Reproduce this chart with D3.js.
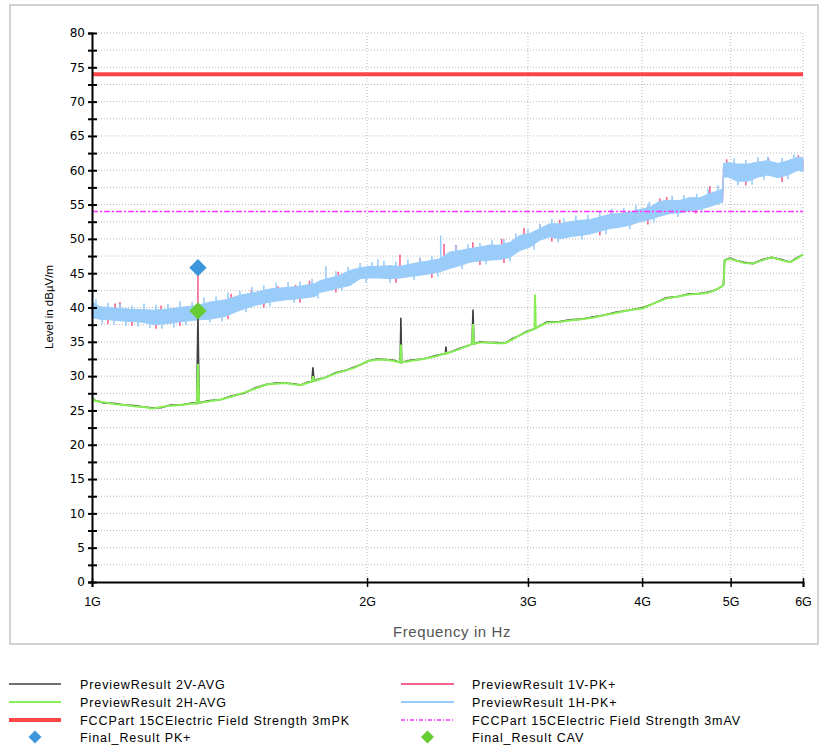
<!DOCTYPE html>
<html>
<head>
<meta charset="utf-8">
<script src="https://cdn.jsdelivr.net/npm/d3@7"></script>
<style>
  body { margin: 0; background: #fff; }
  svg text { font-family: "Liberation Sans", Arial, sans-serif; }
</style>
</head>
<body>
<svg id="chart" width="820" height="747"></svg>
<script>

// ============================================================
//  DATA (frequencies in GHz, levels in dBµV/m)
// ============================================================

// -- Preview results, average detector ---------------------
const avgFreq = [
  1.000, 1.006, 1.030, 1.061, 1.085, 1.112, 1.140, 1.163, 1.190, 1.219,
  1.250, 1.291, 1.302, 1.306, 1.310, 1.340, 1.384, 1.420, 1.467, 1.510,
  1.554, 1.590, 1.627, 1.660, 1.693, 1.720, 1.740, 1.745, 1.750, 1.763,
  1.800, 1.848, 1.890, 1.935, 1.970, 2.005, 2.050, 2.098, 2.140, 2.174,
  2.178, 2.182, 2.230, 2.304, 2.380, 2.436, 2.440, 2.444, 2.520, 2.586,
  2.606, 2.612, 2.618, 2.660, 2.706, 2.770, 2.832, 2.880, 2.934, 2.990,
  3.050, 3.054, 3.060, 3.148, 3.240, 3.332, 3.430, 3.531, 3.640, 3.741,
  3.870, 4.010, 4.120, 4.249, 4.380, 4.503, 4.610, 4.712, 4.800, 4.881,
  4.910, 4.925, 4.993, 5.080, 5.171, 5.290, 5.420, 5.543, 5.680, 5.806,
  5.900, 6.000
];
const avg2H = [
  27.0, 26.4, 26.2, 25.9, 25.8, 25.6, 25.5, 25.3, 25.5, 25.7,
  25.8, 26.0, 26.0, 31.8, 26.1, 26.3, 26.6, 27.0, 27.6, 28.2,
  28.8, 28.9, 29.0, 28.8, 28.7, 29.0, 29.2, 30.0, 29.3, 29.4,
  29.8, 30.4, 30.8, 31.2, 31.7, 32.2, 32.4, 32.4, 32.2, 32.0,
  34.6, 32.0, 32.2, 32.5, 32.9, 33.3, 33.4, 33.3, 33.9, 34.5,
  34.7, 37.6, 34.7, 34.9, 34.9, 34.8, 34.8, 35.3, 35.9, 36.4,
  36.9, 41.9, 37.0, 37.8, 37.9, 38.1, 38.3, 38.5, 38.9, 39.2,
  39.6, 39.9, 40.6, 41.3, 41.6, 41.9, 42.0, 42.1, 42.5, 43.0,
  43.3, 46.9, 47.1, 46.8, 46.5, 46.4, 46.9, 47.3, 46.9, 46.6,
  47.1, 47.7
];
const avg2V = [
  27.0, 26.5, 26.1, 26.0, 25.8, 25.7, 25.5, 25.4, 25.4, 25.8,
  25.8, 26.1, 26.0, 39.0, 26.1, 26.4, 26.6, 27.1, 27.5, 28.3,
  28.8, 29.0, 29.0, 28.9, 28.7, 29.1, 29.2, 31.3, 29.3, 29.5,
  29.8, 30.5, 30.8, 31.3, 31.7, 32.2, 32.5, 32.4, 32.3, 32.0,
  38.5, 32.0, 32.3, 32.5, 33.0, 33.3, 34.3, 33.3, 34.0, 34.5,
  34.7, 39.7, 34.7, 35.0, 34.9, 34.9, 34.8, 35.4, 35.9, 36.5,
  36.9, 37.2, 37.0, 37.9, 37.9, 38.2, 38.3, 38.6, 38.9, 39.3,
  39.6, 40.0, 40.6, 41.4, 41.6, 42.0, 42.0, 42.2, 42.5, 43.0,
  43.3, 46.9, 47.2, 46.8, 46.6, 46.4, 47.0, 47.3, 47.0, 46.6,
  47.2, 47.7
];

// -- Preview results, peak detector (envelope of the trace) ----
const pkFreq = [
  1.000, 1.020, 1.046, 1.087, 1.129, 1.172, 1.217, 1.264, 1.306, 1.346,
  1.398, 1.452, 1.508, 1.566, 1.626, 1.689, 1.754, 1.776, 1.822, 1.868,
  1.916, 1.965, 2.015, 2.066, 2.119, 2.173, 2.228, 2.285, 2.343, 2.403,
  2.465, 2.527, 2.592, 2.658, 2.726, 2.795, 2.867, 2.940, 3.015, 3.091,
  3.170, 3.251, 3.334, 3.419, 3.506, 3.596, 3.688, 3.782, 3.878, 3.977,
  4.078, 4.182, 4.289, 4.398, 4.511, 4.626, 4.744, 4.865, 4.900, 4.912,
  4.966, 5.092, 5.222, 5.356, 5.492, 5.632, 5.776, 5.923, 6.000
];
const pk1HTop = [
  40.8, 40.1, 40.0, 39.8, 39.7, 39.6, 39.8, 40.1, 40.3, 40.8,
  41.1, 41.8, 42.2, 42.7, 42.9, 43.1, 43.5, 43.9, 44.3, 44.7,
  45.4, 45.8, 46.0, 46.0, 46.1, 46.0, 46.3, 46.6, 46.8, 47.1,
  48.1, 48.3, 48.6, 48.8, 49.1, 49.1, 49.5, 50.5, 50.8, 51.5,
  52.2, 52.2, 52.5, 52.7, 52.8, 53.2, 53.6, 53.7, 53.9, 54.3,
  54.6, 55.5, 55.6, 55.6, 56.0, 56.0, 56.6, 57.1, 57.3, 61.0,
  61.1, 60.9, 60.9, 61.2, 61.4, 61.0, 61.4, 61.9, 61.8
];
const pk1HBot = [
  38.5, 38.3, 38.2, 38.0, 37.9, 37.5, 37.7, 38.0, 38.2, 38.3,
  38.7, 39.6, 40.3, 40.8, 41.1, 41.3, 41.6, 42.2, 42.5, 42.9,
  43.2, 44.2, 44.3, 44.3, 44.2, 44.3, 44.5, 44.7, 44.9, 45.2,
  45.7, 46.1, 46.6, 46.8, 46.9, 47.0, 47.3, 48.3, 48.8, 49.8,
  50.3, 50.0, 50.3, 50.5, 50.7, 51.1, 51.5, 51.7, 52.0, 52.5,
  52.8, 53.3, 53.7, 53.8, 54.1, 54.3, 54.7, 55.2, 55.3, 59.0,
  59.0, 58.4, 58.4, 59.0, 59.3, 58.9, 59.3, 60.0, 59.8
];
const pk1VTop = [
  40.5, 39.8, 39.7, 39.5, 39.4, 39.3, 39.5, 39.8, 40.0, 40.5,
  40.8, 41.5, 41.9, 42.4, 42.6, 42.8, 43.2, 43.6, 44.0, 44.4,
  45.1, 45.5, 45.7, 45.7, 45.8, 45.7, 46.0, 46.3, 46.5, 46.8,
  47.8, 48.0, 48.3, 48.5, 48.8, 48.8, 49.2, 50.2, 50.5, 51.2,
  51.9, 51.9, 52.2, 52.4, 52.5, 52.9, 53.3, 53.4, 53.6, 54.0,
  54.3, 55.2, 55.3, 55.3, 55.7, 55.7, 56.3, 56.8, 57.0, 60.7,
  60.8, 60.6, 60.6, 60.9, 61.1, 60.7, 61.1, 61.6, 61.5
];
const pk1VBot = [
  38.8, 38.6, 38.5, 38.3, 38.2, 37.8, 38.0, 38.3, 38.5, 38.6,
  39.0, 39.9, 40.6, 41.1, 41.4, 41.6, 41.9, 42.5, 42.8, 43.2,
  43.5, 44.5, 44.6, 44.6, 44.5, 44.6, 44.8, 45.0, 45.2, 45.5,
  46.0, 46.4, 46.9, 47.1, 47.2, 47.3, 47.6, 48.6, 49.1, 50.1,
  50.6, 50.3, 50.6, 50.8, 51.0, 51.4, 51.8, 52.0, 52.3, 52.8,
  53.1, 53.6, 54.0, 54.1, 54.4, 54.6, 55.0, 55.5, 55.6, 59.3,
  59.3, 58.7, 58.7, 59.3, 59.6, 59.2, 59.6, 60.3, 60.1
];

// -- Single peaks / dips sticking out of the peak traces -----
const pk1HSpikeFreq = [
  1.010, 1.041, 1.073, 1.106, 1.140, 1.175, 1.211, 1.248, 1.287, 1.326,
  1.367, 1.409, 1.452, 1.497, 1.542, 1.590, 1.639, 1.689, 1.741, 1.803,
  1.849, 1.906, 1.965, 2.025, 2.056, 2.087, 2.151, 2.217, 2.285, 2.355,
  2.408, 2.502, 2.579, 2.658, 2.740, 2.824, 2.910, 3.000, 3.091, 3.186,
  3.284, 3.385, 3.489, 3.596, 3.706, 3.820, 3.937, 4.058, 4.073, 4.315,
  4.443, 4.590, 4.723, 4.843, 5.042, 5.196, 5.355, 5.492, 5.691, 5.867,
  // dips
  1.026, 1.057, 1.089, 1.123, 1.157, 1.193, 1.229, 1.267, 1.346, 1.388,
  1.474, 1.566, 1.664, 1.767, 1.877, 1.995, 2.119, 2.251, 2.391, 2.540,
  2.699, 2.867, 3.045, 3.236, 3.437, 3.652, 3.878, 4.122, 4.378, 4.649,
  5.092, 5.277, 5.438, 5.778
];
const pk1HSpikeLevel = [
  41.2, 40.7, 40.6, 40.3, 40.6, 40.4, 40.5, 40.9, 40.8, 41.5,
  41.6, 42.2, 42.4, 43.0, 43.2, 43.6, 43.7, 43.8, 44.2, 46.0,
  45.3, 45.9, 46.5, 46.6, 47.0, 46.8, 46.7, 47.0, 47.3, 47.5,
  50.5, 49.0, 49.2, 49.4, 49.8, 50.0, 50.8, 51.4, 52.2, 52.9,
  53.0, 53.4, 53.5, 53.9, 54.4, 54.5, 54.9, 55.1, 55.4, 56.3,
  56.4, 56.6, 57.3, 57.8, 61.7, 61.5, 61.9, 62.0, 61.8, 62.3,
  // dips
  37.6, 37.5, 37.3, 37.2, 37.0, 36.9, 37.1, 37.4, 37.8, 38.0,
  39.3, 40.2, 40.7, 41.3, 42.4, 43.6, 43.6, 44.0, 44.5, 45.6,
  46.3, 46.7, 48.4, 49.5, 49.9, 50.7, 51.4, 52.4, 53.2, 53.8,
  57.8, 57.9, 58.6, 58.7
];
const pk1VSpikeFreq = [
  1.060, 1.073, 1.190, 1.306, 1.420, 1.494, 1.598, 1.670, 1.730, 1.860,
  2.173, 2.285, 2.428, 2.502, 2.611, 2.808, 2.971, 3.091, 3.250, 3.700,
  4.182, 4.256, 4.744, 4.950, 5.500, 5.930,
  // dips
  1.041, 1.106, 1.175, 1.248, 1.409, 1.542, 1.689, 1.849, 2.151, 2.355,
  2.658, 2.824, 3.186, 3.596, 4.058, 4.580, 5.196, 5.691
];
const pk1VSpikeLevel = [
  40.6, 40.8, 40.3, 45.8, 42.0, 42.6, 43.1, 43.3, 43.9, 45.2,
  47.7, 47.2, 49.3, 49.1, 49.5, 50.0, 51.6, 52.1, 52.8, 54.2,
  55.9, 56.1, 57.7, 61.6, 61.8, 62.2,
  // dips
  37.6, 37.3, 36.9, 37.3, 38.3, 40.0, 40.7, 42.2, 43.6, 44.3,
  46.2, 46.5, 49.6, 50.5, 52.1, 53.7, 57.8, 58.3
];

// -- Limits and final measurements --------------------------
const limitPK = 74;
const limitAV = 54;
const finalFreq = [1.306];
const finalPK   = [45.8];
const finalCAV  = [39.5];

// -- Axes ----------------------------------------------------
const xTickValues = [1, 2, 3, 4, 5, 6];
const xTickLabels = ["1G", "2G", "3G", "4G", "5G", "6G"];
const yTickValues = [0, 2.5, 5, 7.5, 10, 12.5, 15, 17.5, 20, 22.5, 25, 27.5, 30, 32.5, 35, 37.5, 40,
                     42.5, 45, 47.5, 50, 52.5, 55, 57.5, 60, 62.5, 65, 67.5, 70, 72.5, 75, 77.5, 80];

// -- Legend --------------------------------------------------
const legendLabels = [
  "PreviewResult 2V-AVG", "PreviewResult 2H-AVG", "FCCPart 15CElectric Field Strength 3mPK", "Final_Result PK+",
  "PreviewResult 1V-PK+", "PreviewResult 1H-PK+", "FCCPart 15CElectric Field Strength 3mAV", "Final_Result CAV"
];

// ============================================================
//  CONFIGURATION
// ============================================================

const CONFIG = {
  LEFT: 92, RIGHT: 803, TOP: 33, BOTTOM: 582,
  COLOR_2V: "#404040",
  COLOR_2H: "#88ee55",
  COLOR_1V: "#f6648e",
  COLOR_1H: "#9accfa",
  COLOR_PK_LIMIT: "#ff4646",
  COLOR_AV_LIMIT: "#ff33ff",
  COLOR_FINAL_PK: "#3c96dc",
  COLOR_FINAL_AV: "#66cc33",
  GRID: "#b8b8b8",
};

const svg = d3.select("#chart");

const x = d3.scaleLog().domain([1, 6]).range([CONFIG.LEFT, CONFIG.RIGHT]);
const y = d3.scaleLinear().domain([0, 80]).range([CONFIG.BOTTOM, CONFIG.TOP]);

// --- Frame ---
svg.append("rect")
  .attr("x", 10).attr("y", 5).attr("width", 808).attr("height", 639)
  .attr("fill", "none").attr("stroke", "#c4c4c4").attr("stroke-width", 1.5);

// --- Grid ---
svg.append("g")
  .selectAll("line")
  .data(yTickValues.filter(v => v > 0))
  .join("line")
  .attr("x1", CONFIG.LEFT).attr("x2", CONFIG.RIGHT)
  .attr("y1", d => y(d)).attr("y2", d => y(d))
  .attr("stroke", CONFIG.GRID).attr("stroke-dasharray", "1,2");

svg.append("g")
  .selectAll("line")
  .data(xTickValues.slice(1))
  .join("line")
  .attr("x1", d => x(d)).attr("x2", d => x(d))
  .attr("y1", CONFIG.TOP).attr("y2", CONFIG.BOTTOM)
  .attr("stroke", CONFIG.GRID).attr("stroke-dasharray", "1,2");

// --- Peak traces (band + single peaks and dips) ---
function drawPeakTrace(top, bot, spikeFreq, spikeLevel, color) {
  const area = d3.area()
    .x((d, i) => x(pkFreq[i]))
    .y0((d, i) => y(bot[i]))
    .y1((d, i) => y(top[i]));
  svg.append("path")
    .datum(pkFreq)
    .attr("d", area)
    .attr("fill", color)
    .attr("stroke", color).attr("stroke-width", 1);

  // each spike runs from its level back to the middle of the band
  const topAt = d3.scaleLinear().domain(pkFreq).range(top);
  const botAt = d3.scaleLinear().domain(pkFreq).range(bot);
  svg.append("g")
    .selectAll("line")
    .data(spikeFreq)
    .join("line")
    .attr("x1", d => x(d)).attr("x2", d => x(d))
    .attr("y1", (d, i) => y(spikeLevel[i]))
    .attr("y2", d => y((topAt(d) + botAt(d)) / 2))
    .attr("stroke", color).attr("stroke-width", 1.6);
}

drawPeakTrace(pk1VTop, pk1VBot, pk1VSpikeFreq, pk1VSpikeLevel, CONFIG.COLOR_1V);
drawPeakTrace(pk1HTop, pk1HBot, pk1HSpikeFreq, pk1HSpikeLevel, CONFIG.COLOR_1H);

// --- Average traces ---
const avgLine = values => d3.line()
  .x((d, i) => x(avgFreq[i]))
  .y((d, i) => y(values[i]))(avgFreq);

svg.append("path").attr("d", avgLine(avg2V))
  .attr("fill", "none").attr("stroke", CONFIG.COLOR_2V).attr("stroke-width", 1.6);
svg.append("path").attr("d", avgLine(avg2H))
  .attr("fill", "none").attr("stroke", CONFIG.COLOR_2H).attr("stroke-width", 2);

// --- Limits ---
svg.append("line")
  .attr("x1", CONFIG.LEFT).attr("x2", CONFIG.RIGHT)
  .attr("y1", y(limitPK)).attr("y2", y(limitPK))
  .attr("stroke", CONFIG.COLOR_PK_LIMIT).attr("stroke-width", 4);
svg.append("line")
  .attr("x1", CONFIG.LEFT).attr("x2", CONFIG.RIGHT)
  .attr("y1", y(limitAV)).attr("y2", y(limitAV))
  .attr("stroke", CONFIG.COLOR_AV_LIMIT).attr("stroke-width", 1.5)
  .attr("stroke-dasharray", "6,2,2,2");

// --- Axes ---
const yAxis = svg.append("g")
  .attr("transform", `translate(${CONFIG.LEFT},0)`)
  .call(d3.axisLeft(y).tickValues(yTickValues).tickSize(4)
    .tickFormat(d => d % 5 === 0 ? d : ""));
yAxis.select(".domain").attr("stroke", "#000").attr("stroke-width", 2);
yAxis.selectAll(".tick line").attr("x1", -4).attr("x2", 5).attr("stroke-width", 2);
yAxis.selectAll(".tick text")
  .attr("x", -7)
  .style("font-family", "'DejaVu Sans', sans-serif")
  .style("font-size", "12px").attr("fill", "#000");

const xAxis = svg.append("g")
  .attr("transform", `translate(0,${CONFIG.BOTTOM})`)
  .call(d3.axisBottom(x).tickValues(xTickValues).tickSize(5)
    .tickFormat((d, i) => xTickLabels[i]));
xAxis.select(".domain").attr("stroke", "#000").attr("stroke-width", 2);
xAxis.selectAll(".tick line").attr("y1", -4).attr("y2", 5).attr("stroke-width", 1.5);
xAxis.selectAll(".tick text")
  .attr("y", 15)
  .style("font-family", "'Liberation Sans', Arial, sans-serif")
  .style("font-size", "12.5px").attr("fill", "#000");

// --- Axis titles ---
svg.append("text")
  .attr("x", 452).attr("y", 637)
  .attr("text-anchor", "middle")
  .attr("fill", "#555")
  .style("font-size", "15px").style("letter-spacing", "0.6px")
  .text("Frequency in Hz");

svg.append("text")
  .attr("transform", "translate(53,307) rotate(-90)")
  .attr("text-anchor", "middle")
  .attr("fill", "#000")
  .style("font-size", "11.5px")
  .text("Level in dBµV/m");

// --- Final results ---
const diamond = size => d3.symbol().type(d3.symbolSquare).size(size)();

svg.append("g")
  .selectAll("path")
  .data(finalFreq)
  .join("path")
  .attr("d", diamond(150))
  .attr("transform", (d, i) => `translate(${x(d)},${y(finalCAV[i])}) rotate(45)`)
  .attr("fill", CONFIG.COLOR_FINAL_AV);

svg.append("g")
  .selectAll("path")
  .data(finalFreq)
  .join("path")
  .attr("d", diamond(150))
  .attr("transform", (d, i) => `translate(${x(d)},${y(finalPK[i])}) rotate(45)`)
  .attr("fill", CONFIG.COLOR_FINAL_PK);

// --- Legend ---
const legendRows = [684, 702, 720, 737];
const legendItems = [
  { col: 0, kind: "line", color: CONFIG.COLOR_2V, width: 1.5 },
  { col: 0, kind: "line", color: CONFIG.COLOR_2H, width: 2 },
  { col: 0, kind: "line", color: CONFIG.COLOR_PK_LIMIT, width: 4 },
  { col: 0, kind: "diamond", color: CONFIG.COLOR_FINAL_PK },
  { col: 1, kind: "line", color: CONFIG.COLOR_1V, width: 2 },
  { col: 1, kind: "line", color: CONFIG.COLOR_1H, width: 2 },
  { col: 1, kind: "line", color: CONFIG.COLOR_AV_LIMIT, width: 1.5, dash: "4,2,1,2" },
  { col: 1, kind: "diamond", color: CONFIG.COLOR_FINAL_AV },
];
const colX = [{ x0: 9, x1: 61, tx: 80 }, { x0: 401, x1: 454, tx: 472 }];

legendItems.forEach((item, i) => {
  const c = colX[item.col];
  const ry = legendRows[i % 4];
  if (item.kind === "line") {
    svg.append("line")
      .attr("x1", c.x0).attr("x2", c.x1).attr("y1", ry).attr("y2", ry)
      .attr("stroke", item.color).attr("stroke-width", item.width)
      .attr("stroke-dasharray", item.dash || null);
  } else {
    svg.append("path")
      .attr("d", diamond(85))
      .attr("transform", `translate(${(c.x0 + c.x1) / 2},${ry}) rotate(45)`)
      .attr("fill", item.color);
  }
  svg.append("text")
    .attr("x", c.tx).attr("y", ry + 4.5)
    .attr("fill", "#000")
    .style("font-size", "12.5px").style("letter-spacing", "0.9px")
    .text(legendLabels[i]);
});

</script>
</body>
</html>
